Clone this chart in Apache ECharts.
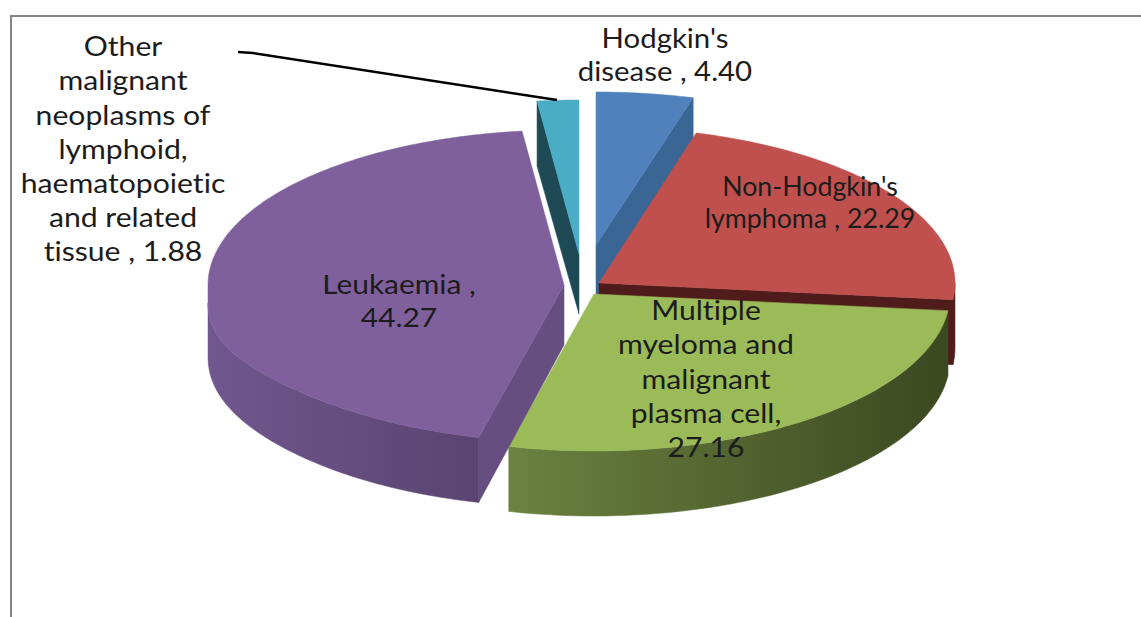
<!DOCTYPE html>
<html>
<head>
<meta charset="utf-8">
<style>
  html, body { margin: 0; padding: 0; background: #fff; }
  #main { width: 1141px; height: 617px; }
  #main text { font-variant-ligatures: none !important; }
</style>
<script src="https://cdn.jsdelivr.net/npm/echarts@6/dist/echarts.min.js"></script>
</head>
<body>
<div id="main"></div>
<script>
var categories = ["Hodgkin's disease", "Non-Hodgkin's lymphoma", "Multiple myeloma and malignant plasma cell", "Leukaemia", "Other malignant neoplasms of lymphoid, haematopoietic and related tissue"];
var values = [4.40, 22.29, 27.16, 44.27, 1.88];
var labelHeads = ["Hodgkin's\ndisease , ", "Non-Hodgkin's\nlymphoma , ", "Multiple\nmyeloma and\nmalignant\nplasma cell,\n", "Leukaemia ,\n", "Other\nmalignant\nneoplasms of\nlymphoid,\nhaematopoietic\nand related\ntissue , "];
var topColors = ['#4f81bd', '#c0504d', '#9bbb59', '#7f609c', '#4bacc6'];
var cutColors = ['#3a6695', '#4f1b1b', '#3d4a21', '#664f80', '#1d4a55'];
var wallFrom = ['#3a6695', '#5e1c1c', '#6b8240', '#70578e', '#1d4a55'];
var wallTo = ['#3a6695', '#4f1b1b', '#3b4820', '#5a4470', '#1d4a55'];

// layout of the tilted pie
var centers = [[596, 245], [599, 283], [594, 294], [564, 285], [579, 254]];
var ryBack = [153, 156, 152, 155, 154];
var frontSag = [0, 0, 0, 18, 0];
var labelPos = [[665, 22], [810, 170], [706, 293], [399, 267], [123, 29]];
var labelStretch = [1.13, 1.03, 1.16, 1.15, 1.16];
var labelLine = [33, 32, 34.2, 33.5, 34.2];
var rx = 356, ryFront = 157;
var rimDepth = 65, apexDepth = 60;
var leader = [[238, 52], [253, 53], [557, 100]];

// running total -> start and end angle of each slice
var total = values.reduce(function (a, b) { return a + b; }, 0);
var running = 0;
var rows = values.map(function (v) {
  var row = [running / total * 360, (running + v) / total * 360, v];
  running += v;
  return row;
});

function rimPoint(i, deg, depth, sagShare) {
  var c = centers[i];
  var a = deg * Math.PI / 180;
  var cos = Math.cos(a), sin = Math.sin(a);
  var y = c[1] - (cos > 0 ? ryBack[i] : ryFront) * cos + depth;
  if (cos < 0) y += frontSag[i] * sagShare * Math.pow(sin, 8);
  return [c[0] + rx * sin, y];
}

function arc(i, from, to, depth, sagShare) {
  var pts = [];
  var n = Math.max(2, Math.ceil(Math.abs(to - from)));
  for (var k = 0; k <= n; k++) {
    pts.push(rimPoint(i, from + (to - from) * k / n, depth, sagShare));
  }
  return pts;
}

function poly(points, fill) {
  return { type: 'polygon', shape: { points: points }, style: { fill: fill, stroke: fill, lineWidth: 0.5 } };
}

function cutFace(i, deg) {
  var c = centers[i];
  return poly([[c[0], c[1]], rimPoint(i, deg, 0, 1), rimPoint(i, deg, rimDepth, 0.4), [c[0], c[1] + apexDepth]], cutColors[i]);
}

function renderSlice(params, api) {
  var i = params.dataIndex;
  var start = api.value(0), end = api.value(1);
  var c = centers[i];
  var kids = [];

  // cut side that faces the viewer
  if (i === 0 || i === 1) kids.push(cutFace(i, end));
  if (i === 3 || i === 4) kids.push(cutFace(i, start));

  // outer wall, only the front part of the rim
  var wFrom = Math.max(start, 90), wTo = Math.min(end, 270);
  if (wTo > wFrom) {
    kids.push(poly(arc(i, wFrom, wTo, 0, 1).concat(arc(i, wTo, wFrom, rimDepth, 0.4)),
      new echarts.graphic.LinearGradient(0, 0, 1, 0, [
        { offset: 0, color: wallFrom[i] },
        { offset: 1, color: wallTo[i] }
      ])));
  }

  // top face
  kids.push(poly([[c[0], c[1]]].concat(arc(i, start, end, 0, 1)), topColors[i]));

  if (i === 4) {
    kids.push({ type: 'polyline', shape: { points: leader }, style: { fill: 'none', stroke: '#000', lineWidth: 2.5 } });
  }

  kids.push({
    type: 'text',
    x: labelPos[i][0],
    y: labelPos[i][1],
    scaleX: labelStretch[i],
    z2: 10,
    style: {
      x: 0,
      y: 0,
      text: labelHeads[i] + api.value(2).toFixed(2),
      align: 'center',
      verticalAlign: 'top',
      font: '26px Lato',
      lineHeight: labelLine[i],
      fill: '#1c1c1c'
    }
  });
  return { type: 'group', children: kids };
}

var myChart = echarts.init(document.getElementById('main'), null, { renderer: 'svg' });
myChart.setOption({
  backgroundColor: '#fff',
  animation: false,
  graphic: [{
    type: 'polyline',
    shape: { points: [[11, 617], [11, 16], [1141, 16]] },
    style: { fill: 'none', stroke: '#868686', lineWidth: 2 }
  }],
  series: [{
    type: 'custom',
    name: 'share',
    coordinateSystem: 'none',
    renderItem: renderSlice,
    data: rows.map(function (r, i) { return { name: categories[i], value: r }; })
  }]
});
</script>
</body>
</html>
